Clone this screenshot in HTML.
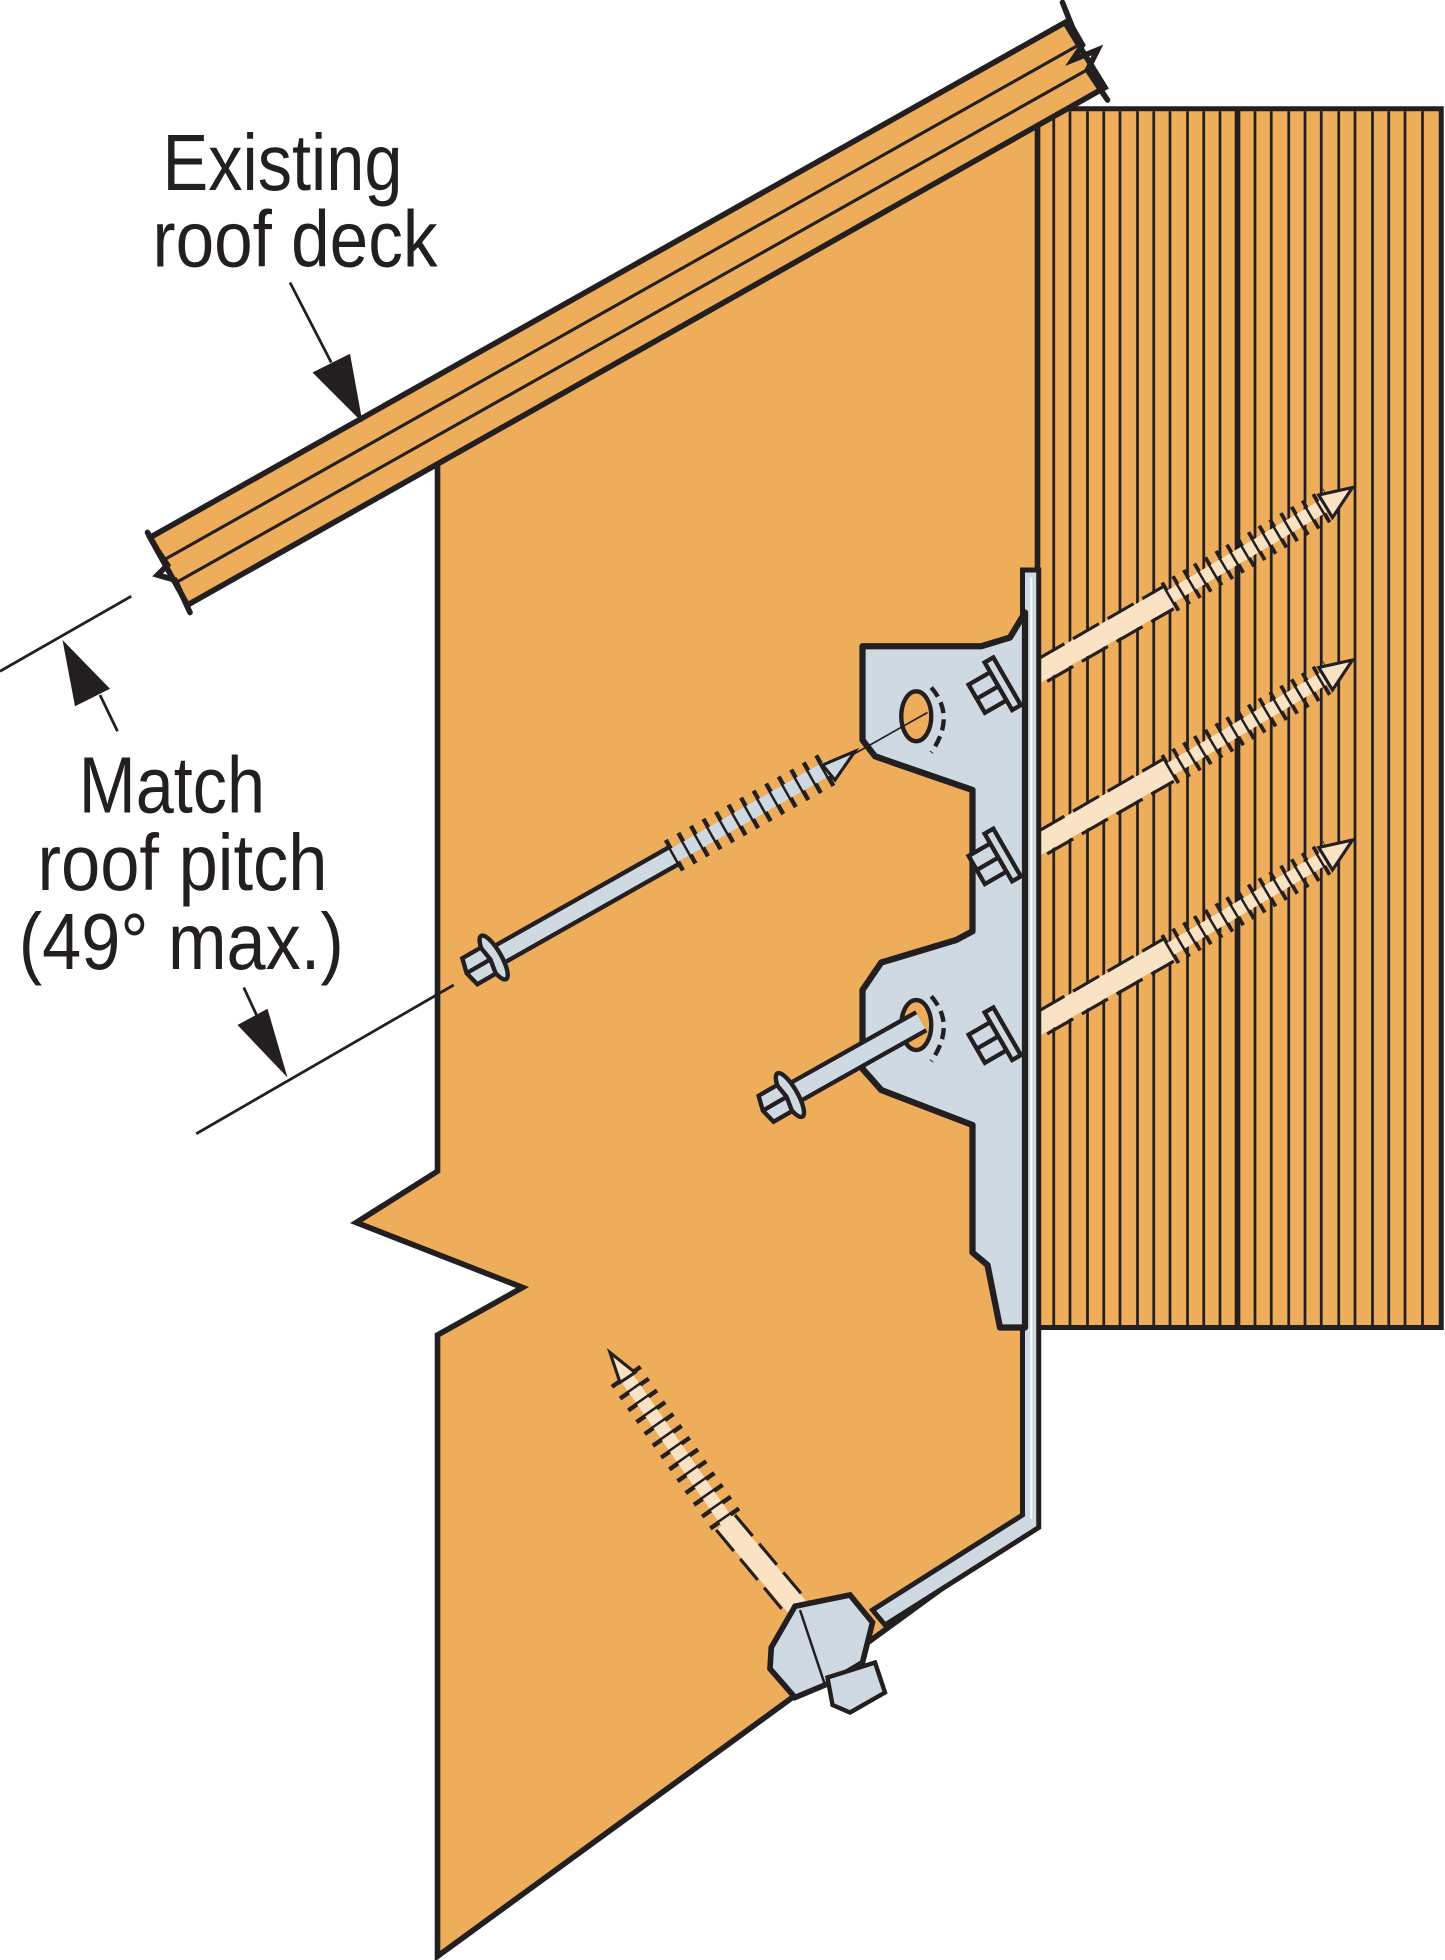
<!DOCTYPE html>
<html><head><meta charset="utf-8"><style>
html,body{margin:0;padding:0;background:#fff;}
svg{display:block;}
text{font-family:"Liberation Sans Narrow","Liberation Sans",sans-serif;fill:#231f20;}
</style></head><body>
<svg width="1445" height="1960" viewBox="0 0 1156 1568" xmlns="http://www.w3.org/2000/svg">
<rect width="1156" height="1568" fill="#fff"/>
<!-- wall / header -->
<rect x="830" y="87" width="323" height="975" fill="#EEAD5B" stroke="#231f20" stroke-width="4"/>
<g stroke="#231f20" stroke-width="2.2">
<line x1="843" y1="89" x2="843" y2="1060"/><line x1="856" y1="89" x2="856" y2="1060"/><line x1="870" y1="89" x2="870" y2="1060"/><line x1="883" y1="89" x2="883" y2="1060"/><line x1="896" y1="89" x2="896" y2="1060"/><line x1="910" y1="89" x2="910" y2="1060"/><line x1="923" y1="89" x2="923" y2="1060"/><line x1="936" y1="89" x2="936" y2="1060"/><line x1="950" y1="89" x2="950" y2="1060"/><line x1="963" y1="89" x2="963" y2="1060"/><line x1="976" y1="89" x2="976" y2="1060"/>
<line x1="1004" y1="89" x2="1004" y2="1060"/><line x1="1017" y1="89" x2="1017" y2="1060"/><line x1="1031" y1="89" x2="1031" y2="1060"/><line x1="1044" y1="89" x2="1044" y2="1060"/><line x1="1057" y1="89" x2="1057" y2="1060"/><line x1="1071" y1="89" x2="1071" y2="1060"/><line x1="1084" y1="89" x2="1084" y2="1060"/><line x1="1098" y1="89" x2="1098" y2="1060"/><line x1="1111" y1="89" x2="1111" y2="1060"/><line x1="1124" y1="89" x2="1124" y2="1060"/><line x1="1138" y1="89" x2="1138" y2="1060"/>
</g>
<line x1="990" y1="87" x2="990" y2="1062" stroke="#231f20" stroke-width="4.5"/>

<!-- rafter -->
<polygon points="350,362 830,92 830,1215 350,1565 350,1068 418,1030 285,978 350,937" fill="#EEAD5B" stroke="#231f20" stroke-width="4.5" stroke-linejoin="miter"/>

<!-- roof deck -->
<polygon points="120,430 852,18 884,70 150,484" fill="#EEAD5B" stroke="#231f20" stroke-width="4.5"/>
<line x1="131" y1="448" x2="863" y2="36" stroke="#231f20" stroke-width="2.5"/>
<line x1="141" y1="466" x2="873" y2="54" stroke="#231f20" stroke-width="2.5"/>
<polyline points="118,426 126,440 134,452 126,460 140,464 152,490" fill="none" stroke="#231f20" stroke-width="4.5" stroke-linecap="round"/>
<polyline points="850,2 858,22 866,36 858,48 878,40 870,56 886,80" fill="none" stroke="#231f20" stroke-width="4.5" stroke-linecap="round"/>

<!-- screws into wall -->
<g stroke-linecap="butt">
 <g id="s1">
  <line x1="805" y1="552" x2="935" y2="478" stroke="#FAE3C4" stroke-width="17"/>
  <line x1="803" y1="543" x2="931" y2="469" stroke="#231f20" stroke-width="2.5" stroke-dasharray="24 8"/>
  <line x1="810" y1="561" x2="939" y2="487" stroke="#231f20" stroke-width="2.5" stroke-dasharray="24 8"/>
  <line x1="935" y1="478" x2="1065" y2="402" stroke="#231f20" stroke-width="26" stroke-dasharray="3 7"/>
  <line x1="935" y1="478" x2="1062" y2="403" stroke="#FAE3C4" stroke-width="11"/>
  <line x1="935" y1="478" x2="1062" y2="403" stroke="#231f20" stroke-width="13" stroke-dasharray="2 8"/>
  <polygon points="1055,396 1082,390 1066,414" fill="#FAE3C4" stroke="#231f20" stroke-width="2.5"/>
 </g>
 <g transform="translate(0,138)">
  <line x1="805" y1="552" x2="935" y2="478" stroke="#FAE3C4" stroke-width="17"/>
  <line x1="803" y1="543" x2="931" y2="469" stroke="#231f20" stroke-width="2.5" stroke-dasharray="24 8"/>
  <line x1="810" y1="561" x2="939" y2="487" stroke="#231f20" stroke-width="2.5" stroke-dasharray="24 8"/>
  <line x1="935" y1="478" x2="1065" y2="402" stroke="#231f20" stroke-width="26" stroke-dasharray="3 7"/>
  <line x1="935" y1="478" x2="1062" y2="403" stroke="#FAE3C4" stroke-width="11"/>
  <line x1="935" y1="478" x2="1062" y2="403" stroke="#231f20" stroke-width="13" stroke-dasharray="2 8"/>
  <polygon points="1055,396 1082,390 1066,414" fill="#FAE3C4" stroke="#231f20" stroke-width="2.5"/>
 </g>
 <g transform="translate(0,282)">
  <line x1="805" y1="552" x2="935" y2="478" stroke="#FAE3C4" stroke-width="17"/>
  <line x1="803" y1="543" x2="931" y2="469" stroke="#231f20" stroke-width="2.5" stroke-dasharray="24 8"/>
  <line x1="810" y1="561" x2="939" y2="487" stroke="#231f20" stroke-width="2.5" stroke-dasharray="24 8"/>
  <line x1="935" y1="478" x2="1065" y2="402" stroke="#231f20" stroke-width="26" stroke-dasharray="3 7"/>
  <line x1="935" y1="478" x2="1062" y2="403" stroke="#FAE3C4" stroke-width="11"/>
  <line x1="935" y1="478" x2="1062" y2="403" stroke="#231f20" stroke-width="13" stroke-dasharray="2 8"/>
  <polygon points="1055,396 1082,390 1066,414" fill="#FAE3C4" stroke="#231f20" stroke-width="2.5"/>
 </g>
</g>

<!-- bracket strap -->
<polygon points="818,456 831,456 831,1222 708,1300 698,1288 818,1212" fill="#CFD9E2" stroke="#231f20" stroke-width="4"/>
<!-- bracket plate -->
<polygon points="690,517 785,517 808,510 820,490 820,1062 800,1062 790,1012 778,1002 778,900 705,872 690,855 690,792 705,770 765,752 778,745 778,632 720,612 700,605 690,592" fill="#CFD9E2" stroke="#231f20" stroke-width="5" stroke-linejoin="round"/>
<line x1="825" y1="462" x2="825" y2="1215" stroke="#fff" stroke-width="1.5"/>
<!-- slot holes -->
<g fill="none" stroke="#231f20" stroke-width="3.5">
 <ellipse cx="733" cy="573" rx="12" ry="20" fill="#EEAD5B"/>
 <path d="M745,550 Q765,573 745,602" stroke-dasharray="9 5"/>
 <ellipse cx="733" cy="820" rx="12" ry="20" fill="#EEAD5B"/>
 <path d="M745,797 Q765,820 745,849" stroke-dasharray="9 5"/>
</g>
<line x1="680" y1="605" x2="742" y2="570" stroke="#231f20" stroke-width="1.3"/>

<!-- hex heads on wall screws -->
<g fill="#CFD9E2" stroke="#231f20" stroke-width="3.5">
 <g transform="translate(797,550) rotate(-30)"><rect x="-18" y="-13" width="20" height="26"/><line x1="-18" y1="0" x2="2" y2="0"/><rect x="2" y="-22" width="8" height="44"/></g>
 <g transform="translate(797,687) rotate(-30)"><rect x="-18" y="-13" width="20" height="26"/><line x1="-18" y1="0" x2="2" y2="0"/><rect x="2" y="-22" width="8" height="44"/></g>
 <g transform="translate(797,830) rotate(-30)"><rect x="-18" y="-13" width="20" height="26"/><line x1="-18" y1="0" x2="2" y2="0"/><rect x="2" y="-22" width="8" height="44"/></g>
</g>

<!-- long screw through rafter -->
<line x1="388" y1="770" x2="540" y2="684" stroke="#231f20" stroke-width="19"/>
<line x1="388" y1="770" x2="540" y2="684" stroke="#CFD9E2" stroke-width="12"/>
<line x1="538" y1="685" x2="668" y2="612" stroke="#231f20" stroke-width="28" stroke-dasharray="3.5 8"/>
<line x1="538" y1="685" x2="665" y2="613" stroke="#CFD9E2" stroke-width="12"/>
<line x1="538" y1="685" x2="665" y2="613" stroke="#231f20" stroke-width="14" stroke-dasharray="2 9.5"/>
<polygon points="658,612 684,601 668,624" fill="#CFD9E2" stroke="#231f20" stroke-width="2.5"/>
<g transform="translate(388,770) rotate(-30)" fill="#CFD9E2" stroke="#231f20" stroke-width="3.5">
 <ellipse cx="8" cy="0" rx="6" ry="20"/>
 <polygon points="-14,-12 3,-12 5,0 3,12 -14,12 -17,0"/>
 <line x1="-16" y1="0" x2="4" y2="0"/>
</g>

<!-- lower bolt -->
<line x1="625" y1="880" x2="737" y2="817" stroke="#231f20" stroke-width="20"/>
<line x1="625" y1="880" x2="737" y2="817" stroke="#CFD9E2" stroke-width="13"/>
<g transform="translate(625,880) rotate(-30)" fill="#CFD9E2" stroke="#231f20" stroke-width="3.5">
 <ellipse cx="8" cy="0" rx="6" ry="20"/>
 <polygon points="-14,-12 3,-12 5,0 3,12 -14,12 -17,0"/>
 <line x1="-16" y1="0" x2="4" y2="0"/>
</g>

<!-- bottom lag screw -->
<line x1="580" y1="1218" x2="650" y2="1300" stroke="#FAE3C4" stroke-width="17"/>
<line x1="573" y1="1224" x2="641" y2="1306" stroke="#231f20" stroke-width="2.5" stroke-dasharray="22 8"/>
<line x1="588" y1="1212" x2="657" y2="1294" stroke="#231f20" stroke-width="2.5" stroke-dasharray="22 8"/>
<line x1="500" y1="1100" x2="582" y2="1218" stroke="#231f20" stroke-width="28" stroke-dasharray="3.5 8"/>
<line x1="500" y1="1100" x2="582" y2="1218" stroke="#FAE3C4" stroke-width="11"/>
<line x1="500" y1="1100" x2="582" y2="1218" stroke="#231f20" stroke-width="13" stroke-dasharray="2 9.5"/>
<polygon points="488,1082 508,1098 496,1106" fill="#FAE3C4" stroke="#231f20" stroke-width="2.5"/>
<polygon points="617,1318 636,1285 680,1276 698,1298 690,1330 660,1348 636,1358 616,1335" fill="#CFD9E2" stroke="#231f20" stroke-width="4.5"/>
<line x1="640" y1="1288" x2="660" y2="1348" stroke="#231f20" stroke-width="2"/>
<polygon points="662,1342 700,1330 708,1354 680,1370 666,1364" fill="#CFD9E2" stroke="#231f20" stroke-width="3.5"/>

<!-- dimension lines -->
<g stroke="#231f20" stroke-width="2.2" fill="none">
 <line x1="0" y1="537" x2="105" y2="477"/>
 <line x1="157" y1="907" x2="363" y2="788"/>
 <line x1="232" y1="226" x2="265" y2="290"/>
 <line x1="94" y1="585" x2="80" y2="556"/>
 <line x1="195" y1="790" x2="208" y2="818"/>
</g>
<g fill="#231f20">
 <polygon points="290,338 250,298 280,283"/>
 <polygon points="50,512 60,565 88,551"/>
 <polygon points="230,862 190,820 214,807"/>
</g>

<!-- labels -->
<text x="130" y="152" font-size="64" textLength="192" lengthAdjust="spacingAndGlyphs">Existing</text>
<text x="122" y="213" font-size="64" textLength="228" lengthAdjust="spacingAndGlyphs">roof deck</text>
<text x="63" y="650" font-size="64" textLength="149" lengthAdjust="spacingAndGlyphs">Match</text>
<text x="30" y="712" font-size="64" textLength="232" lengthAdjust="spacingAndGlyphs">roof pitch</text>
<text x="15" y="775" font-size="64" textLength="260" lengthAdjust="spacingAndGlyphs">(49° max.)</text>
</svg>
</body></html>
